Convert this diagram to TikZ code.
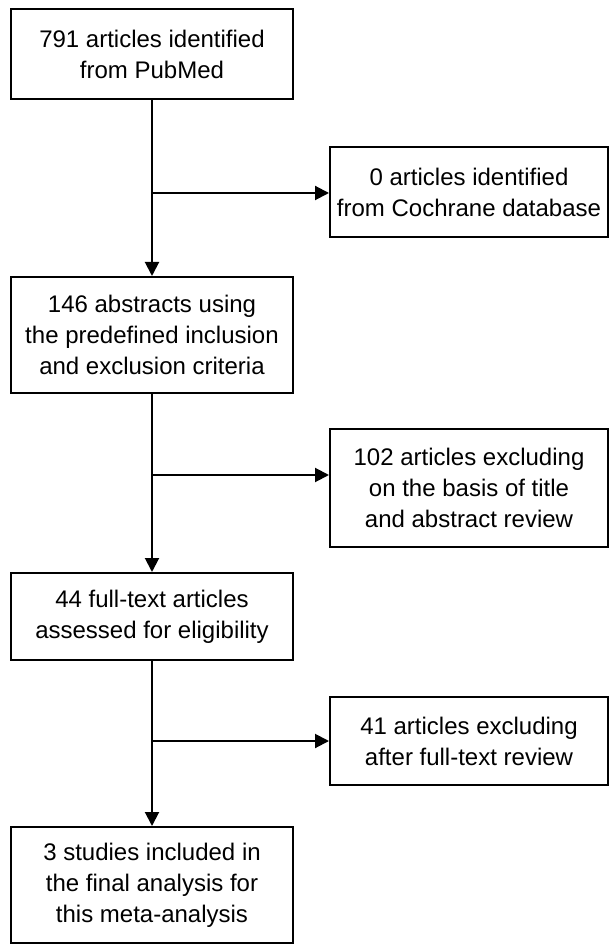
\documentclass[tikz,border=0pt]{standalone}
\usepackage{fontspec}
\setmainfont{Liberation Sans}
\usetikzlibrary{arrows.meta}

\begin{document}
\begin{tikzpicture}[
		x=0.5pt,y=-0.5pt,
		box/.style={
			draw,
			line width=1pt,
			minimum width=141pt,
			inner sep=0pt,
			align=center,
			font=\fontsize{12}{15.5}\selectfont
		},
		sidebox/.style={box,minimum width=139pt},
		arr/.style={-{Triangle[length=7pt,width=7pt]},line width=1pt}
		]
		\useasboundingbox (0,0) rectangle (610,945);
		% main column
		\node[box,minimum height=45pt](pubmed) at (152,54){791 articles identified\\from PubMed};
		\node[box,minimum height=58pt](abstracts) at (152,335){146 abstracts using\\the predefined inclusion\\and exclusion criteria};
		\node[box,minimum height=43.5pt](fulltext) at (152,616.5){44 full-text articles\\assessed for eligibility};
		\node[box,minimum height=58pt](included) at (152,885){3 studies included in\\the final analysis for\\this meta-analysis};
		% side boxes
		\node[sidebox,minimum height=45pt](cochrane) at (469,192){0 articles identified\\from Cochrane database};
		\node[sidebox,minimum height=59pt](titleexcl) at (469,488){102 articles excluding\\on the basis of title\\and abstract review};
		\node[sidebox,minimum height=44pt](textexcl) at (469,741){41 articles excluding\\after full-text review};
		% branch points
		\coordinate (b1) at (152,193);
		\coordinate (b2) at (152,475);
		\coordinate (b3) at (152,741);
		\draw[arr](pubmed)--(abstracts);
		\draw[arr](abstracts)--(fulltext);
		\draw[arr](fulltext)--(included);
		\draw[arr](b1)--(b1 -| cochrane.west);
		\draw[arr](b2)--(b2 -| titleexcl.west);
		\draw[arr](b3)--(b3 -| textexcl.west);
	\end{tikzpicture}
\end{document}
